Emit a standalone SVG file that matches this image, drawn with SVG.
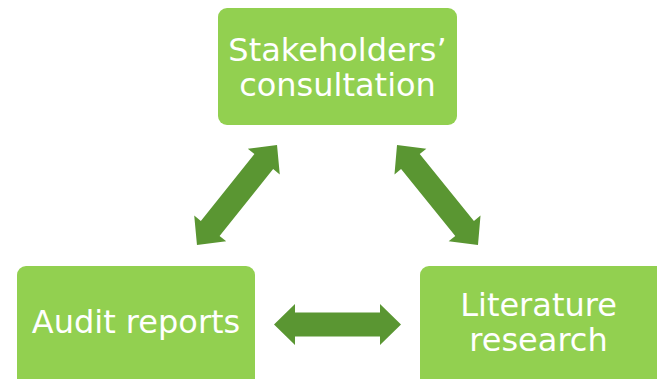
<svg xmlns="http://www.w3.org/2000/svg" width="657" height="379" viewBox="0 0 657 379">
<style>
.box{fill:#92d050}
.lbl{font-family:"DejaVu Sans",Verdana,sans-serif;font-size:32px;fill:#ffffff;text-anchor:middle}
.arr{fill:#5a9632}
</style>
<defs>
<path id="dbl" d="M-63.5,0 L-42.5,-20.5 L-42.5,-12 L42.5,-12 L42.5,-20.5 L63.5,0 L42.5,20.5 L42.5,12 L-42.5,12 L-42.5,20.5 Z"/>
</defs>
<rect width="657" height="379" fill="#ffffff"/>
<g id="connectors">
<use href="#dbl" class="arr" transform="translate(237,195) rotate(-51.3) scale(1.008,1)"/>
<use href="#dbl" class="arr" transform="translate(437.5,195) rotate(51) scale(1.013,1)"/>
<use href="#dbl" class="arr" transform="translate(337.5,324.5)"/>
</g>
<g id="stakeholders">
<rect class="box" x="218" y="8" width="239" height="117" rx="9"/>
<text class="lbl" x="337.5" y="61">Stakeholders’</text>
<text class="lbl" x="337.5" y="96">consultation</text>
</g>
<g id="audit">
<rect class="box" x="17" y="266" width="238" height="125" rx="9"/>
<text class="lbl" x="136" y="333">Audit reports</text>
</g>
<g id="literature">
<rect class="box" x="420" y="266" width="245" height="125" rx="9"/>
<text class="lbl" x="538.5" y="316">Literature</text>
<text class="lbl" x="538.5" y="351">research</text>
</g>
</svg>
